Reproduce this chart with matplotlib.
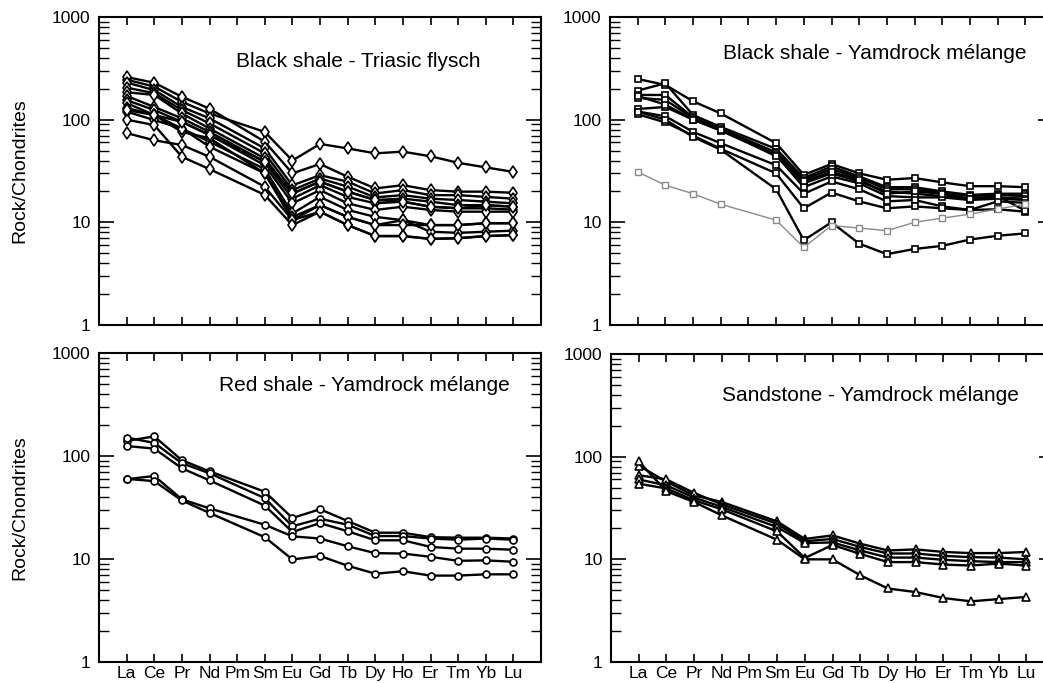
import numpy as np
import matplotlib
matplotlib.use('Agg')
import matplotlib.pyplot as plt
from matplotlib.ticker import LogLocator, NullFormatter, FixedLocator

plt.rcParams['font.family'] = ['Liberation Sans', 'DejaVu Sans']

#%% Data
elements = ['La', 'Ce', 'Pr', 'Nd', 'Pm', 'Sm', 'Eu', 'Gd', 'Tb', 'Dy', 'Ho', 'Er', 'Tm', 'Yb', 'Lu']
# Pm is not measured -> NaN
triasic_flysch = [
    [245, 210, 149, 115, np.nan, 76, 40, 58, 52.5, 47, 48.8, 44, 38, 34.3, 31],
    [260, 229, 167, 128, np.nan, 61, 30, 37, 27.8, 21.4, 23, 20.6, 19.9, 19.9, 19.4],
    [230, 194, 133, 103, np.nan, 52.5, 22.9, 28.8, 24.9, 19.1, 20.6, 18.4, 18.4, 17.7, 17],
    [205, 181, 124, 92, np.nan, 47, 20.6, 26.7, 22.3, 17.5, 18.4, 17, 16.5, 15.9, 15.3],
    [185, 174, 115, 82, np.nan, 42, 19.1, 24.9, 19.9, 16.5, 17, 15.9, 14.7, 14.7, 14.2],
    [170, 133, 103, 76, np.nan, 39, 17, 23, 17.7, 15.3, 15.9, 14.2, 13.7, 13.7, 13.3],
    [155, 124, 95, 71, np.nan, 36, 15.3, 20.6, 15.3, 13.2, 14.2, 13.2, 12.7, 12.7, 12.7],
    [145, 111, 82, 61, np.nan, 33, 12.2, 17.7, 13.2, 11.3, 10.5, 9.4, 9.4, 9.8, 9.8],
    [130, 111, 76, 66, np.nan, 30, 11.3, 14.7, 11.3, 9.4, 10.5, 8.1, 7.9, 8.1, 8.3],
    [120, 99, 82, 54.5, np.nan, 30, 10.5, 12.7, 9.4, 7.35, 7.35, 6.9, 7.0, 7.35, 7.5],
    [74, 63, 56.6, 43.5, np.nan, 22.2, 10.5, 14.7, 11.3, 9.4, 9.4, 9.4, 9.4, 9.8, 9.8],
    [100, 88.6, 43.5, 33, np.nan, 18.5, 9.4, 12.7, 9.4, 7.35, 7.35, 6.9, 7.0, 7.35, 7.5],
    [124, 111, 95, 71, np.nan, 39, 19.1, 24.9, 19.9, 16.5, 15.9, 14.2, 13.7, 14.7, 14.2],
]
black_yamdrock = [
    [249, 218, 151, 115, np.nan, 59, 29, 37, 30, 26, 27, 24.5, 22.5, 22.5, 22],
    [192, 226, 111, 85, np.nan, 52, 27, 35, 28, 22, 22, 20, 18.5, 19, 19],
    [174, 174, 105, 82, np.nan, 48, 26, 33, 27, 21, 21, 19.5, 18, 18.5, 18],
    [163, 156, 103, 79, np.nan, 47, 24, 30, 25, 20, 19, 18, 17, 17.5, 17],
    [127, 133, 100, 78, np.nan, 45, 22, 28, 24, 18, 17.5, 17.5, 16.5, 17, 16.5],
    [120, 108, 76, 59, np.nan, 36, 19, 25, 21, 16, 16.5, 14.3, 13.2, 16, 15.5],
    [113, 94, 70, 52, np.nan, 30, 13.7, 19.5, 16, 13.7, 14.3, 13.7, 13.2, 13.4, 12.7],
    [120, 100, 68, 51, np.nan, 21, 6.7, 10, 6.2, 4.9, 5.5, 5.9, 6.8, 7.4, 7.8],
    [170, 140, 100, 80, np.nan, 44, 25, 31, 26, 19, 20, 19, 17, 18, 13],
]
black_yamdrock_grey = [31, 23, 19, 15, np.nan, 10.5, 5.7, 9.3, 8.8, 8.3, 10, 11, 12, 13.5, 15]
red_yamdrock = [
    [140, 155, 91, 71, np.nan, 45, 25, 30.4, 23.4, 18, 18, 16.3, 16.1, 16.1, 15.8],
    [151, 134, 85, 68, np.nan, 39, 20.8, 24.6, 21.5, 16.7, 16.7, 15.8, 15.4, 15.8, 15.4],
    [125, 118, 76, 58, np.nan, 33, 18.3, 22.3, 18.6, 15.2, 15.2, 13.1, 12.6, 12.6, 12.3],
    [59.5, 64, 38, 31, np.nan, 21.5, 16.6, 15.8, 13.3, 11.4, 11.3, 10.5, 9.6, 9.7, 9.4],
    [60, 57, 37, 28, np.nan, 16.3, 9.9, 10.7, 8.6, 7.2, 7.6, 6.9, 6.9, 7.1, 7.1],
]
sandstone_yamdrock = [
    [82, 57, 42, 36.2, np.nan, 23.4, 15.8, 17.1, 14.2, 12.2, 12.5, 11.8, 11.5, 11.5, 11.8],
    [66, 60, 44.4, 34.3, np.nan, 22.2, 15, 15.8, 13.2, 11.4, 11.4, 10.8, 10.5, 10.4, 10],
    [60, 52.5, 40, 32.4, np.nan, 20.6, 14.4, 14.6, 12.2, 10.4, 10.4, 9.9, 9.6, 9.4, 9.4],
    [54.5, 49, 37.6, 30.7, np.nan, 18.7, 10.3, 13.8, 11.3, 9.4, 9.4, 8.9, 8.7, 9.1, 8.7],
    [90, 46, 36.2, 26.8, np.nan, 15.5, 10, 10, 7, 5.2, 4.8, 4.2, 3.9, 4.1, 4.3],
]

titles = ['Black shale - Triasic flysch', 'Black shale - Yamdrock mélange',
          'Red shale - Yamdrock mélange', 'Sandstone - Yamdrock mélange']

#%% Layout
W, H = 1043, 683
fig = plt.figure(figsize=(W / 100, H / 100), dpi=100)

def px_axes(x0, y0, x1, y1):
    return fig.add_axes([x0 / W, 1 - y1 / H, (x1 - x0) / W, (y1 - y0) / H])

ax_tl = px_axes(99, 17, 541, 325)
ax_tr = px_axes(610, 17, 1053, 325)
ax_bl = px_axes(99, 353, 541, 662)
ax_br = px_axes(611, 354, 1054, 662)

x = np.arange(1, len(elements) + 1)

def draw(ax, data, marker, ms):
    for row in data:
        y = np.array(row, dtype=float)
        m = ~np.isnan(y)
        ax.plot(x[m], y[m], color='black', lw=1.7, marker=marker, ms=ms,
                mfc='white', mec='black', mew=1.2)

draw(ax_tl, triasic_flysch, 'd', 6)
draw(ax_tr, black_yamdrock, 's', 5)
g = np.array(black_yamdrock_grey, dtype=float)
mg = ~np.isnan(g)
ax_tr.plot(x[mg], g[mg], color='#8a8a8a', lw=1.0, marker='s', ms=5,
           mfc='white', mec='#8a8a8a', mew=1.0)
draw(ax_bl, red_yamdrock, 'o', 5)
draw(ax_br, sandstone_yamdrock, '^', 6)

#%% Axes styling
text_pos = [(0.586, 0.854), (0.597, 0.883), (0.60, 0.896), (0.586, 0.864)]
for ax, t, (tx, ty), bottom in zip([ax_tl, ax_tr, ax_bl, ax_br], titles, text_pos,
                                    [False, False, True, True]):
    ax.set_yscale('log')
    ax.set_ylim(1, 1000)
    ax.set_xlim(0, 16)
    ax.xaxis.set_major_locator(FixedLocator(x))
    ax.set_xticklabels(elements if bottom else [])
    ax.yaxis.set_minor_locator(LogLocator(base=10, subs=np.arange(2, 10), numticks=10))
    ax.yaxis.set_minor_formatter(NullFormatter())
    ax.set_yticks([1, 10, 100, 1000])
    ax.set_yticklabels(['1', '10', '100', '1000'])
    ax.tick_params(axis='y', which='major', direction='in', length=11, width=1.2,
                   left=True, right=True, labelsize=12.5, pad=6)
    ax.tick_params(axis='y', which='minor', direction='in', length=7, width=1.0,
                   left=True, right=True)
    ax.tick_params(axis='x', which='major', direction='in', length=6, width=1.2,
                   top=True, bottom=True, labelsize=12.5, pad=3)
    ax.tick_params(axis='x', which='minor', bottom=False, top=False)
    for s in ax.spines.values():
        s.set_linewidth(1.5)
    ax.text(tx, ty, t, transform=ax.transAxes, ha='center', va='center', fontsize=15)

for ax in [ax_tl, ax_bl]:
    pos = ax.get_position()
    fig.text(20 / W, pos.y0 + pos.height / 2, 'Rock/Chondrites', rotation=90,
             ha='center', va='center', fontsize=14)

fig.savefig('out.png', dpi=100)
